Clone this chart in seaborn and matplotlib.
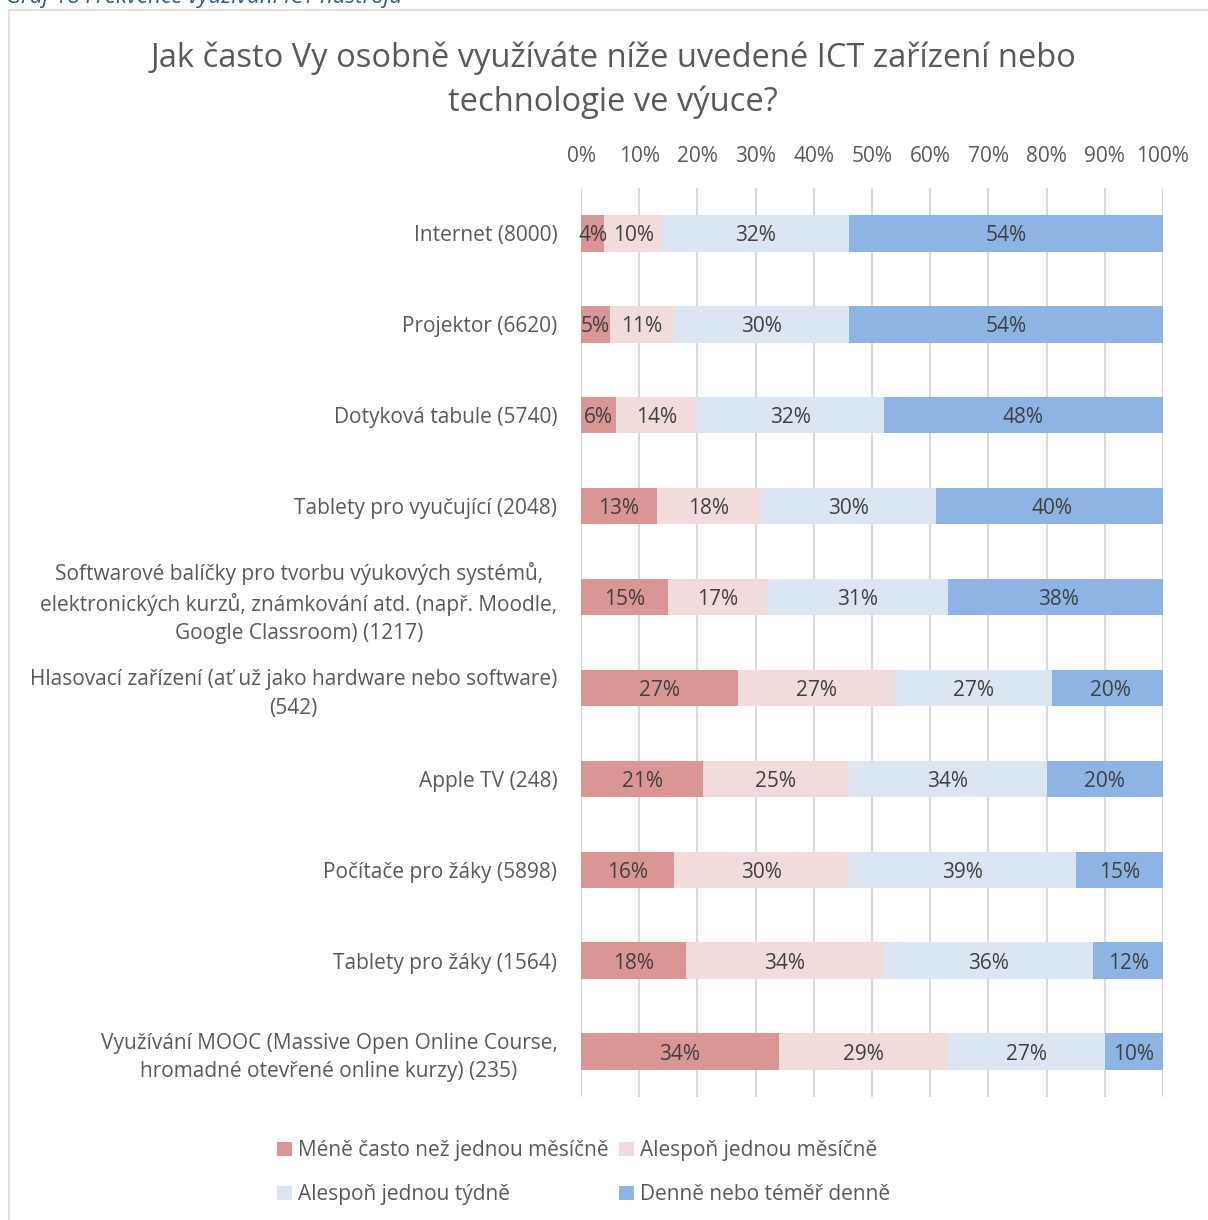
import matplotlib
matplotlib.use("Agg")
import matplotlib.pyplot as plt
from matplotlib.patches import Patch, Rectangle
import numpy as np
import pandas as pd
import seaborn as sns

categories = [
    "Internet (8000)",
    "Projektor (6620)",
    "Dotyková tabule (5740)",
    "Tablety pro vyučující (2048)",
    "Softwarové balíčky pro tvorbu výukových systémů,\nelektronických kurzů, známkování atd. (např. Moodle,\nGoogle Classroom) (1217)",
    "Hlasovací zařízení (ať už jako hardware nebo software)\n(542)",
    "Apple TV (248)",
    "Počítače pro žáky (5898)",
    "Tablety pro žáky (1564)",
    "Využívání MOOC (Massive Open Online Course,\nhromadné otevřené online kurzy) (235)",
]

series_names = [
    "Méně často než jednou měsíčně",
    "Alespoň jednou měsíčně",
    "Alespoň jednou týdně",
    "Denně nebo téměř denně",
]

mene_nez_mesicne = [4, 5, 6, 13, 15, 27, 21, 16, 18, 34]
aspon_mesicne = [10, 11, 14, 18, 17, 27, 25, 30, 34, 29]
aspon_tydne = [32, 30, 32, 30, 31, 27, 34, 39, 36, 27]
denne = [54, 54, 48, 40, 38, 20, 20, 15, 12, 10]

colors = ["#DA9694", "#F2DCDB", "#DCE6F2", "#8DB4E2"]
text_color = "#404040"
tick_color = "#595959"

sns.set_theme(style="white")
plt.rcParams["font.family"] = ["Open Sans", "DejaVu Sans"]

series = [mene_nez_mesicne, aspon_mesicne, aspon_tydne, denne]
values = np.array(series, dtype=float)
cum = np.cumsum(values, axis=0)

fig = plt.figure(figsize=(12.08, 12.2), dpi=100)
ax = fig.add_axes([581 / 1208, 1 - 1097 / 1220, (1163 - 581) / 1208, (1097 - 188) / 1220])

# stacked bars: draw cumulative totals from the longest down so each segment shows
for i in range(3, -1, -1):
    df = pd.DataFrame({"kategorie": categories, "hodnota": cum[i]})
    sns.barplot(data=df, x="hodnota", y="kategorie", orient="h", color=colors[i],
                width=0.4, saturation=1, ax=ax, zorder=2, linewidth=0)

for i in range(4):
    for j in range(len(categories)):
        v = values[i, j]
        ax.text(cum[i, j] - v / 2, j, f"{int(v)}%", ha="center", va="center_baseline",
                fontsize=15, color=text_color, zorder=5)

ax.set_xlim(0, 100)
ax.set_ylim(len(categories) - 0.5, -0.5)
ax.set_xticks(np.arange(0, 101, 10))
ax.set_xticklabels([f"{t}%" for t in range(0, 101, 10)])
ax.xaxis.tick_top()
ax.tick_params(axis="x", length=0, pad=15, labelsize=15, labelcolor=tick_color)
ax.tick_params(axis="y", length=0, pad=17, labelsize=15, labelcolor=tick_color)
for lbl in ax.get_yticklabels():
    lbl.set_multialignment("center")
    lbl.set_linespacing(1.45)
ax.set_xlabel("")
ax.set_ylabel("")
ax.grid(axis="x", color="#D9D9D9", linewidth=1.5, zorder=0)
ax.set_axisbelow(True)
for s in ax.spines.values():
    s.set_visible(False)

fig.text(613 / 1208, 1 - 80 / 1220, "Jak často Vy osobně využíváte níže uvedené ICT zařízení nebo\ntechnologie ve výuce?",
         ha="center", va="center", fontsize=23.5, color=tick_color, linespacing=1.4)

handles = [Patch(facecolor=c, edgecolor="none") for c in colors]
order = [0, 2, 1, 3]
fig.legend([handles[k] for k in order], [series_names[k] for k in order],
           loc="upper left", bbox_to_anchor=(267 / 1208, 1 - 1130 / 1220), ncol=2,
           frameon=False, fontsize=15, handlelength=0.7, handleheight=0.7,
           handletextpad=0.3, columnspacing=0.5, labelspacing=1.1, borderpad=0,
           labelcolor=tick_color)

fig.patches.append(Rectangle((9 / 1208, -0.01), 1.1, 1 - 10 / 1220 + 0.01,
                             transform=fig.transFigure, fill=False,
                             edgecolor="#D9D9D9", linewidth=1.2))
fig.text(6 / 1208, 1 - 3 / 1220, "Graf 18 Frekvence využívání ICT nástrojů",
         ha="left", va="baseline", fontsize=16, style="italic", color="#2F5597")

fig.savefig("out.png", dpi=100)
